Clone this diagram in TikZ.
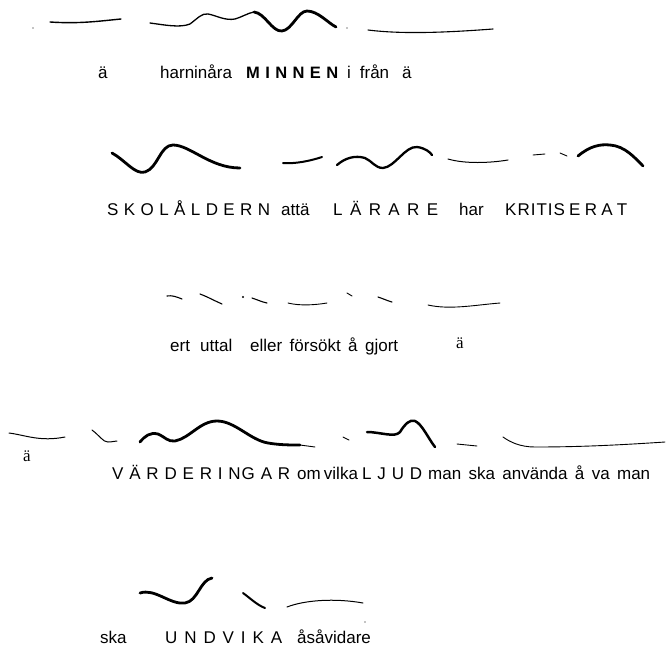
\documentclass[tikz,border=0pt]{standalone}
\usepackage{fontspec}
\setmainfont{Liberation Sans}
\newfontfamily\oddfont{Liberation Serif}
\newcommand\spreadw[2]{\makebox[#1][s]{#2}}
\begin{document}
\begin{tikzpicture}[x=1pt,y=-1pt,
  txt/.style={inner sep=0pt,anchor=base west,font=\fontsize{17}{19}\selectfont},
  odd/.style={inner sep=0pt,anchor=base west,font=\oddfont\fontsize{17}{18}\selectfont},
  thin/.style={line width=0.9pt,line cap=round},
  mid/.style={line width=1.6pt,line cap=round},
  thick/.style={line width=2.8pt,line cap=round,line join=round}]
\useasboundingbox (0,0) rectangle (666,659);
% ---------- row 1 curves
\fill (33,28) circle (0.7);
\draw[mid,line width=1.4pt] (50,22) .. controls (80,24) and (100,21) .. (121,19);
\draw[thin,line width=1.3pt] (150,23) .. controls (165,25) and (180,28) .. (190,24)
  .. controls (198,18) and (202,13) .. (208,14)
  .. controls (215,15) and (225,21) .. (235,19)
  .. controls (242,17) and (248,13) .. (254,12);
\draw[thick] (254,12) .. controls (265,13) and (272,32) .. (282,31)
  .. controls (292,30) and (298,11) .. (307,11)
  .. controls (318,11) and (328,23) .. (336,27);
\fill (347,28) circle (0.7);
\draw[thin,line width=1.1pt] (368,30) .. controls (400,34) and (440,33) .. (493,29);
% ---------- row 1 text
\node[txt] (r1a) at (98,78) {ä};
\node[txt] (r1b) at (160,78) {harninåra};
\node[txt,font=\bfseries\fontsize{16.5}{18}\selectfont] (r1c) at (246,78) {\spreadw{92pt}{M\hfill I\hfill N\hfill N\hfill E\hfill N}};
\node[txt] (r1d) at (347,78) {\spreadw{42pt}{i från}};
\node[txt] (r1e) at (402,78) {ä};
% ---------- row 2 curves
\draw[thick] (112,153) .. controls (125,160) and (135,175) .. (145,172)
  .. controls (158,168) and (160,145) .. (173,145)
  .. controls (190,145) and (210,168) .. (240,168);
\draw[mid,line width=2pt] (283,163) .. controls (295,164) and (310,161) .. (322,157);
\draw[thick,line width=2.3pt] (337,165) .. controls (345,158) and (355,155) .. (365,158)
  .. controls (372,161) and (375,168) .. (383,168)
  .. controls (395,167) and (405,146) .. (417,147)
  .. controls (425,148) and (430,152) .. (432,155);
\draw[thin,line width=1pt] (448,159) .. controls (465,164) and (490,163) .. (508,160);
\draw[thin] (533,155) -- (545,154);
\draw[thin] (560,153) -- (567,156);
\draw[thick] (578,156) .. controls (590,146) and (600,144) .. (610,145)
  .. controls (625,146) and (635,158) .. (643,166);
% ---------- row 2 text
\node[txt] (r2a) at (107,215) {\spreadw{163pt}{S\hfill K\hfill O\hfill L\hfill Å\hfill L\hfill D\hfill E\hfill R\hfill N}};
\node[txt] (r2b) at (281,215) {attä};
\node[txt] (r2c) at (333,215) {\spreadw{105pt}{L\hfill Ä\hfill R\hfill A\hfill R\hfill E}};
\node[txt] (r2d) at (459,215) {har};
\node[txt] (r2e) at (505,215) {\spreadw{122pt}{K\kern1pt R\kern1pt I\kern1pt T\kern1pt I\kern1pt S\hfill E\hfill R\hfill A\hfill T}};
% ---------- row 3 curves
\draw[thin,line width=1.1pt] (167,296) .. controls (172,295) and (177,297) .. (182,299);
\draw[thin,line width=1.1pt] (200,294) .. controls (208,297) and (215,301) .. (222,304);
\fill (243,297) circle (1.1);
\draw[thin,line width=1.1pt] (252,298) .. controls (258,300) and (262,302) .. (267,303);
\draw[thin] (288,303) .. controls (300,306) and (315,305) .. (327,303);
\draw[thin] (347,293) -- (352,296);
\draw[thin,line width=1.1pt] (378,297) .. controls (384,299) and (388,301) .. (392,302);
\draw[thin] (428,305) .. controls (450,310) and (475,305) .. (500,303);
% ---------- row 3 text
\node[txt] (r3a) at (170,351) {ert};
\node[txt] (r3b) at (200,351) {uttal};
\node[txt] (r3c) at (250,351) {\spreadw{148pt}{eller försökt å gjort}};
\node[odd] (r3d) at (456,348) {ä};
% ---------- row 4 curves
\draw[thin,line width=1pt] (9,433) .. controls (25,435) and (40,442) .. (65,437);
\draw[thin,line width=1pt] (92,430) .. controls (100,436) and (103,442) .. (108,442)
  .. controls (112,442) and (115,441) .. (117,441);
\draw[thick] (140,442) .. controls (145,436) and (150,432) .. (158,434)
  .. controls (165,437) and (168,442) .. (175,441)
  .. controls (190,438) and (200,421) .. (217,421)
  .. controls (235,421) and (250,440) .. (268,443)
  .. controls (280,445) and (290,445) .. (300,445);
\draw[thin] (300,445) -- (315,447);
\draw[thin] (343,437) -- (349,440);
\draw[thick,line width=2.5pt] (367,432) .. controls (380,432) and (395,438) .. (400,432)
  .. controls (405,424) and (410,419) .. (415,421)
  .. controls (422,424) and (428,438) .. (435,447);
\draw[thin] (457,444) -- (477,446);
\draw[thin] (503,437) .. controls (510,442) and (520,447) .. (535,447)
  .. controls (580,447) and (620,445) .. (665,442);
% ---------- row 4 text
\node[odd] (r4a) at (23,461) {ä};
\node[txt] (r4b) at (112,479) {\spreadw{178pt}{V\hfill Ä\hfill R\hfill D\hfill E\hfill R\hfill I\hfill N\kern1pt G\hfill A\hfill R}};
\node[txt] (r4c) at (297,479) {\spreadw{60pt}{om vilka}};
\node[txt] (r4d) at (362,479) {\spreadw{60pt}{L\hfill J\hfill U\hfill D}};
\node[txt] (r4e) at (428,479) {\spreadw{222pt}{man ska använda å va man}};
% ---------- row 5 curves
\draw[thick] (140,593) .. controls (155,588) and (170,605) .. (185,603)
  .. controls (198,601) and (200,580) .. (212,578);
\draw[mid,line width=2pt] (243,593) .. controls (250,598) and (257,605) .. (265,608);
\draw[thin,line width=1pt] (287,607) .. controls (305,600) and (335,598) .. (363,603);
\fill (365,622) circle (0.7);
% ---------- row 5 text
\node[txt] (r5a) at (100,643) {ska};
\node[txt] (r5b) at (165,643) {\spreadw{117pt}{U\hfill N\hfill D\hfill V\hfill I\hfill K\hfill A}};
\node[txt] (r5c) at (297,643) {\spreadw{86pt}{åsåvidare}};
\end{tikzpicture}
\end{document}
